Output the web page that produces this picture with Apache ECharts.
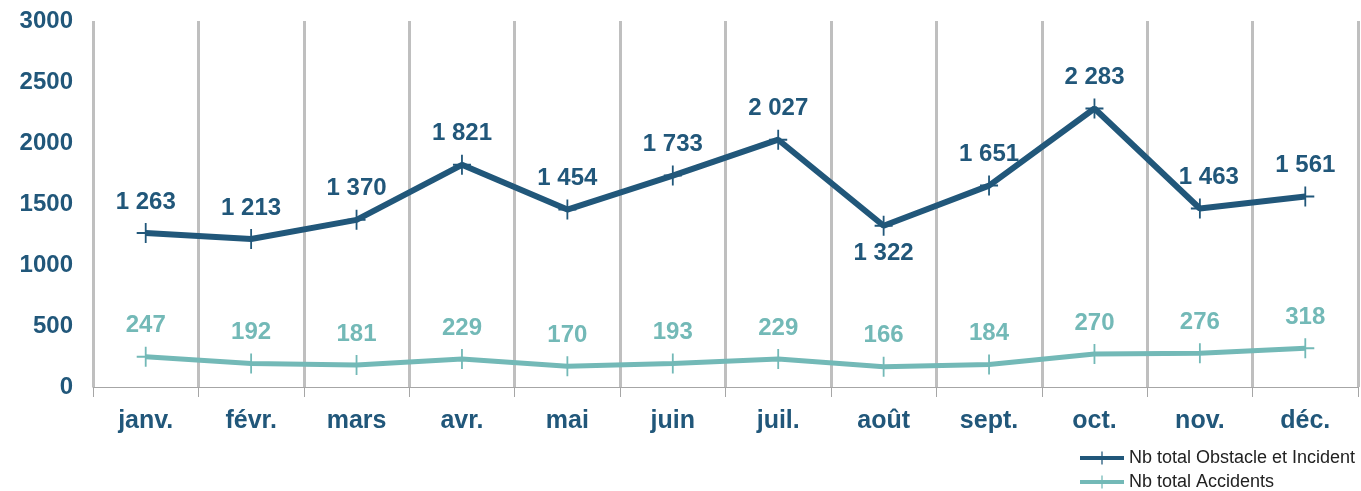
<!DOCTYPE html>
<html>
<head>
<meta charset="utf-8">
<script src="https://cdn.jsdelivr.net/npm/echarts@6/dist/echarts.min.js"></script>
<style>
html,body{margin:0;padding:0;background:#fff;}
#chart{width:1361px;height:491px;}
</style>
</head>
<body>
<div id="chart"></div>
<script>
var months = ['janv.', 'févr.', 'mars', 'avr.', 'mai', 'juin', 'juil.', 'août', 'sept.', 'oct.', 'nov.', 'déc.'];
var obstacleIncident = [1263, 1213, 1370, 1821, 1454, 1733, 2027, 1322, 1651, 2283, 1463, 1561];
var accidents = [247, 192, 181, 229, 170, 193, 229, 166, 184, 270, 276, 318];
var seriesNames = ['Nb total Obstacle et Incident', 'Nb total Accidents'];

var DARK = '#21577a';
var TEAL = '#73b9b7';
var FONT = '"Liberation Sans", Arial, sans-serif';
var CROSS = 'path://M0,9h20v2H0zM9,0h2v20H9z';

function fmt(p) {
  return String(p.value).replace(/\B(?=(\d{3})+(?!\d))/g, ' ');
}

var obstacleData = obstacleIncident.map(function (v, i) {
  if (months[i] === 'août') {
    return { value: v, label: { position: 'bottom', distance: 6 } };
  }
  if (months[i] === 'nov.') {
    return { value: v, label: { offset: [9, 0] } };
  }
  return v;
});

function legendFor(name, top) {
  return {
    data: [name],
    orient: 'vertical',
    left: 1078,
    top: top,
    padding: 0,
    itemWidth: 44,
    itemHeight: 16,
    lineStyle: { width: 4 },
    textStyle: { fontFamily: FONT, fontSize: 18, color: '#222' }
  };
}

var chart = echarts.init(document.getElementById('chart'), null, { renderer: 'canvas' });
chart.setOption({
  animation: false,
  textStyle: { fontFamily: FONT },
  grid: { left: 93, right: 3, top: 21, bottom: 104, containLabel: false },
  legend: [legendFor(seriesNames[0], 449), legendFor(seriesNames[1], 473)],
  xAxis: {
    type: 'category',
    data: months,
    boundaryGap: true,
    axisLine: { show: true, lineStyle: { color: '#a6a6a6', width: 1 } },
    axisTick: { show: true, length: 10, lineStyle: { color: '#a6a6a6', width: 1 } },
    splitLine: { show: true, lineStyle: { color: '#bfbfbf', width: 3 } },
    axisLabel: { color: DARK, fontFamily: FONT, fontSize: 25, fontWeight: 'bold', margin: 22 }
  },
  yAxis: {
    type: 'value',
    min: 0,
    max: 3000,
    interval: 500,
    axisLine: { show: false },
    axisTick: { show: false },
    splitLine: { show: false },
    axisLabel: { color: DARK, fontFamily: FONT, fontSize: 24, fontWeight: 'bold', margin: 20,
      formatter: function (v) { return String(v); } }
  },
  series: [
    {
      name: seriesNames[0],
      type: 'line',
      data: obstacleData,
      symbol: CROSS,
      symbolSize: [18, 20],
      showAllSymbol: true,
      lineStyle: { color: DARK, width: 6 },
      itemStyle: { color: DARK },
      label: { show: true, position: 'top', distance: 9, formatter: fmt, color: DARK, fontFamily: FONT, fontSize: 24, fontWeight: 'bold' },
      z: 3
    },
    {
      name: seriesNames[1],
      type: 'line',
      data: accidents,
      symbol: CROSS,
      symbolSize: [18, 20],
      showAllSymbol: true,
      lineStyle: { color: TEAL, width: 5 },
      itemStyle: { color: TEAL },
      label: { show: true, position: 'top', distance: 9, formatter: fmt, color: TEAL, fontFamily: FONT, fontSize: 24, fontWeight: 'bold' },
      z: 2
    }
  ]
});
</script>
</body>
</html>
